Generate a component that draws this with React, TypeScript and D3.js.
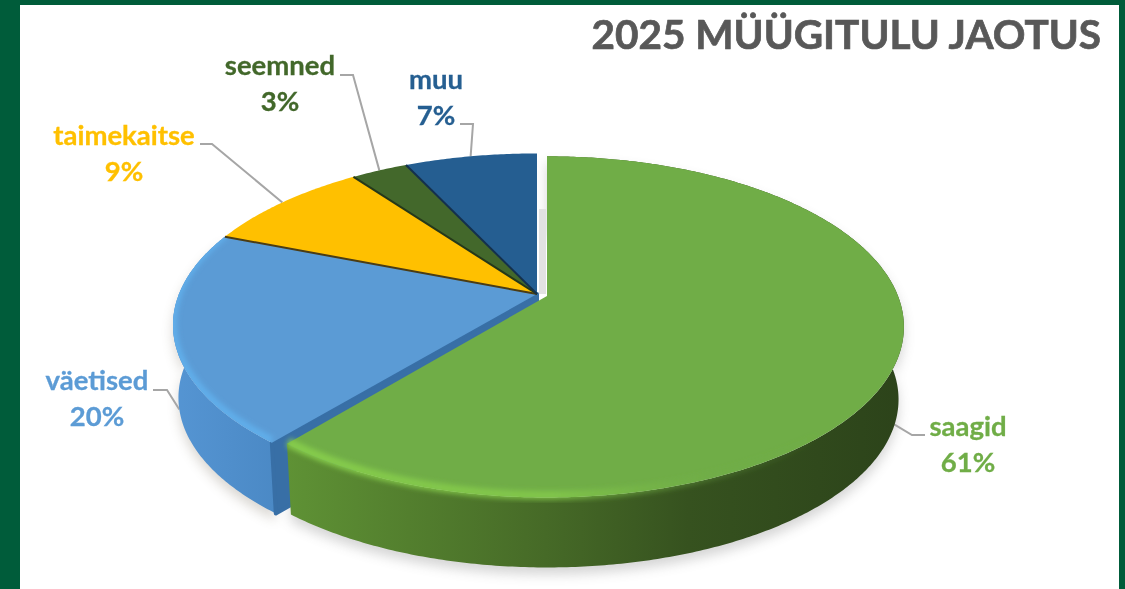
import React from "react";
import * as d3 from "d3";

const categories = ["saagid", "väetised", "taimekaitse", "seemned", "muu"];
const shares = [61, 20, 9, 3, 7];
const titleText = "2025 MÜÜGITULU JAOTUS";

const faceColors = ["#70ad47", "#5b9bd5", "#ffc000", "#43682b", "#255e91"];
const labelColors = ["#70ad47", "#5b9bd5", "#ffc000", "#43682b", "#255e91"];

const W = 1125, H = 589;
const persp = 0.181, depth = 73, bottomScale = 0.985;
type Centre = { x: number; y: number; rx: number; ry: number };
const restCentre: Centre = { x: 537, y: 294, rx: 358, ry: 166 };
const greenCentre: Centre = { x: 547, y: 296, rx: 351, ry: 165 };

const labelLayout = [
  { cx: 968, y: 436, elbow: [912, 435], end: [925, 435], drop: 0.95 },
  { cx: 97, y: 390, elbow: [167, 390], end: [153, 390], drop: 1 },
  { cx: 124, y: 145, elbow: [212, 144], end: [200, 144], drop: 0 },
  { cx: 280, y: 75, elbow: [353, 75], end: [340, 75], drop: 0 },
  { cx: 436, y: 89, elbow: [473, 124], end: [460, 124], drop: 0 },
];

const pie = d3.pie<number>().sort(null).value((d) => d);
const arcs = pie(shares);
const lineGen = d3.line<[number, number]>().curve(d3.curveLinear);

const project = (c: Centre, a: number, dy = 0, s = 1): [number, number] => {
  const den = 1 + persp * Math.cos(a);
  return [c.x + (s * c.rx * Math.sin(a)) / den, c.y - (s * c.ry * Math.cos(a)) / den + dy];
};
const bottom = (c: Centre, a: number) => project(c, a, depth, bottomScale);
const sample = (a0: number, a1: number) => {
  const n = Math.max(4, Math.ceil(Math.abs(a1 - a0) / 0.01));
  return d3.range(n + 1).map((i) => a0 + ((a1 - a0) * i) / n);
};
const faceD = (c: Centre, a0: number, a1: number) =>
  lineGen([[c.x, c.y], ...sample(a0, a1).map((a) => project(c, a))])! + "Z";
const sideD = (c: Centre, a0: number, a1: number) => {
  const s = sample(a0, a1);
  return lineGen([...s.map((a) => project(c, a)), ...s.slice().reverse().map((a) => bottom(c, a))])! + "Z";
};
const wallD = (c: Centre, a: number) => {
  const p = project(c, a);
  const q = bottom(c, a);
  return lineGen([[c.x, c.y], p, q, [c.x, c.y + depth]])! + "Z";
};
const centreOf = (i: number) => (i === 0 ? greenCentre : restCentre);
const shift = (c: Centre, dy: number): Centre => ({ ...c, y: c.y + dy });

export default function App() {
  const green = arcs[0];
  const rest = arcs.slice(1);
  const blue = rest[0];
  return (
    <svg width={W} height={H} viewBox={`0 0 ${W} ${H}`} style={{ position: "absolute", left: 0, top: 0 }}>
      <defs>
        <linearGradient id="greenSide" gradientUnits="userSpaceOnUse" x1={285} x2={905} y1={0} y2={0}>
          <stop offset="0" stopColor="#5f9235" />
          <stop offset="0.2" stopColor="#537f2e" />
          <stop offset="0.42" stopColor="#466a27" />
          <stop offset="0.65" stopColor="#36521f" />
          <stop offset="1" stopColor="#2c431a" />
        </linearGradient>
        <linearGradient id="blueSide" gradientUnits="userSpaceOnUse" x1={173} x2={285} y1={0} y2={0}>
          <stop offset="0" stopColor="#5595d3" />
          <stop offset="1" stopColor="#4a88c4" />
        </linearGradient>
        <linearGradient id="greenRim" gradientUnits="userSpaceOnUse" x1={285} x2={820} y1={0} y2={0}>
          <stop offset="0" stopColor="#88cf4c" stopOpacity={0.9} />
          <stop offset="0.5" stopColor="#88cf4c" stopOpacity={0.7} />
          <stop offset="0.8" stopColor="#70ad47" stopOpacity={0.3} />
          <stop offset="1" stopColor="#70ad47" stopOpacity={0} />
        </linearGradient>
        <filter id="shadow" x="-10%" y="-10%" width="120%" height="130%">
          <feGaussianBlur stdDeviation={6} />
        </filter>
        <filter id="soft" x="-5%" y="-5%" width="110%" height="110%">
          <feGaussianBlur stdDeviation={2.5} />
        </filter>
        <filter id="tiny" x="-5%" y="-5%" width="110%" height="110%">
          <feGaussianBlur stdDeviation={0.6} />
        </filter>
        <clipPath id="blueClip">
          <path d={faceD(restCentre, blue.startAngle, blue.endAngle)} />
        </clipPath>
      </defs>

      <rect width={W} height={H} fill="#005c3a" />
      <rect x={20} y={5} width={1099} height={H - 5} fill="#ffffff" />

      <text x={1101} y={49} textAnchor="end" fontFamily="Lato" fontWeight={700} fontSize={40.5} fill="#595959" stroke="#595959" strokeWidth={0.7} filter="url(#tiny)">
        {titleText}
      </text>

      {/* ground shadow */}
      <g filter="url(#shadow)" opacity={0.28}>
        <path d={sideD(shift(greenCentre, 7), green.startAngle, green.endAngle)} fill="#6b6b6b" />
        <path d={sideD(shift(restCentre, 7), blue.startAngle, blue.endAngle)} fill="#7a7160" />
      </g>

      {/* leader lines */}
      {arcs.map((d, i) => {
        const mid = (d.startAngle + d.endAngle) / 2;
        const l = labelLayout[i];
        const p = project(centreOf(i), mid, depth * l.drop, 1 - (1 - bottomScale) * l.drop);
        return (
          <path
            key={categories[i]}
            d={lineGen([p, l.elbow as [number, number], l.end as [number, number]])!}
            fill="none"
            stroke="#a6a6a6"
            strokeWidth={2}
          />
        );
      })}

      {/* gap shading behind the exploded slice */}
      <rect x={restCentre.x + 2} y={restCentre.y - 85} width={greenCentre.x - restCentre.x - 3} height={85} fill="#e2e2e2" filter="url(#tiny)" />

      {/* other slices */}
      <path d={sideD(restCentre, blue.startAngle, blue.endAngle)} fill="url(#blueSide)" />
      <path d={wallD(restCentre, blue.startAngle)} fill="#386fa6" stroke="#386fa6" strokeWidth={4} strokeLinejoin="round" />
      {rest.map((d, k) => (
        <path key={k} d={faceD(restCentre, d.startAngle, d.endAngle)} fill={faceColors[k + 1]} />
      ))}
      <g clipPath="url(#blueClip)">
        <path
          d={lineGen(sample(blue.startAngle, blue.endAngle).map((a) => project(restCentre, a, -2)))!}
          fill="none"
          stroke="#60aeea"
          strokeWidth={8}
          filter="url(#soft)"
        />
      </g>
      {rest.slice(1).map((d, k) => (
        <path
          key={k}
          d={lineGen([[restCentre.x, restCentre.y], project(restCentre, d.startAngle)])!}
          stroke={k === 0 ? "#4b3c14" : k === 1 ? "#25381a" : "#14304d"}
          strokeWidth={2}
          fill="none"
        />
      ))}

      {/* exploded green slice */}
      <path d={sideD(greenCentre, green.startAngle, green.endAngle)} fill="url(#greenSide)" />
      <path d={faceD(greenCentre, green.startAngle, green.endAngle)} fill={faceColors[0]} filter="url(#tiny)" />
      <path
        d={lineGen(sample(Math.PI * 0.6, green.endAngle - 0.004).map((a) => project(greenCentre, a, -2)))!}
        fill="none"
        stroke="url(#greenRim)"
        strokeWidth={9}
        filter="url(#soft)"
      />

      {/* labels */}
      {categories.map((c, i) => {
        const l = labelLayout[i];
        return (
          <text key={c} textAnchor="middle" fontFamily="Lato" fontWeight={700} fontSize={27.5} fill={labelColors[i]} stroke={labelColors[i]} strokeWidth={0.3} filter="url(#tiny)">
            <tspan x={l.cx} y={l.y}>{c}</tspan>
            <tspan x={l.cx} y={l.y + 36}>{d3.format(".0%")(shares[i] / 100)}</tspan>
          </text>
        );
      })}
    </svg>
  );
}
